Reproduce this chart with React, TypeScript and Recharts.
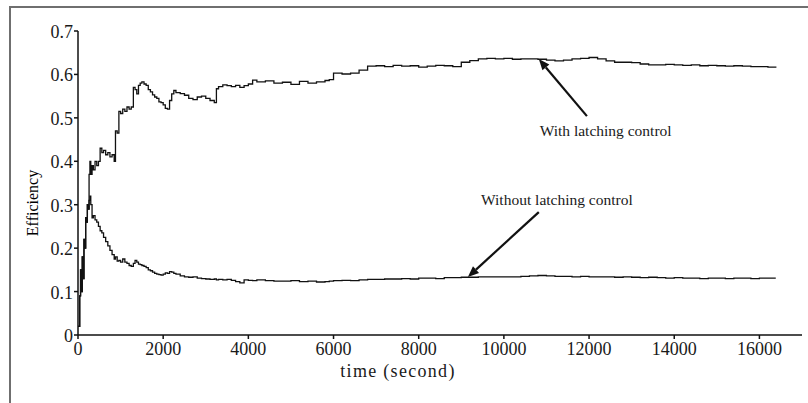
import React from "react";
import {
  LineChart,
  Line,
  XAxis,
  YAxis,
  ReferenceLine,
  ReferenceDot,
} from "recharts";

// time (s)
const times = [
  0, 20, 40, 60, 80, 100, 120, 140, 160, 180,
  200, 220, 240, 260, 280, 300, 330, 360, 400, 440,
  480, 520, 560, 600, 650, 700, 750, 800, 850, 880,
  920, 960, 1000, 1050, 1100, 1150, 1200, 1250, 1300, 1340,
  1380, 1420, 1460, 1500, 1550, 1600, 1650, 1700, 1750, 1800,
  1850, 1900, 1950, 2000, 2050, 2100, 2150, 2200, 2250, 2300,
  2400, 2500, 2600, 2700, 2800, 2900, 3000, 3100, 3200, 3250,
  3300, 3400, 3500, 3600, 3700, 3800, 3900, 4000, 4100, 4200,
  4400, 4600, 4800, 5000, 5200, 5400, 5600, 5800, 5900, 6000,
  6200, 6400, 6600, 6800, 7000, 7200, 7400, 7600, 7800, 8000,
  8200, 8400, 8600, 8800, 9000, 9200, 9400, 9600, 9800, 10000,
  10200, 10400, 10600, 10800, 11000, 11200, 11400, 11600, 11800, 12000,
  12200, 12400, 12600, 12800, 13000, 13200, 13400, 13600, 13800, 14000,
  14200, 14400, 14600, 14800, 15000, 15200, 15400, 15600, 15800, 16000,
  16200, 16384,
];

const withLatching = [
  0.02, 0.02, 0.09, 0.15, 0.1, 0.18, 0.13, 0.22, 0.2, 0.27,
  0.26, 0.3, 0.29, 0.37, 0.4, 0.37, 0.39, 0.38, 0.4, 0.39,
  0.4, 0.43, 0.42, 0.425, 0.415, 0.42, 0.41, 0.415, 0.4, 0.47,
  0.465, 0.515, 0.51, 0.52, 0.515, 0.525, 0.52, 0.525, 0.57, 0.565,
  0.555, 0.575, 0.58, 0.583, 0.578, 0.575, 0.565, 0.56, 0.553, 0.548,
  0.545, 0.537, 0.535, 0.53, 0.522, 0.52, 0.54, 0.555, 0.563, 0.558,
  0.556, 0.552, 0.545, 0.542, 0.548, 0.55, 0.545, 0.54, 0.535, 0.567,
  0.572, 0.576, 0.574, 0.572, 0.575, 0.57, 0.574, 0.578, 0.587, 0.583,
  0.585, 0.58, 0.582, 0.577, 0.584, 0.58, 0.583, 0.586, 0.588, 0.603,
  0.601, 0.603, 0.61, 0.619, 0.62, 0.618, 0.621, 0.619, 0.62, 0.617,
  0.619, 0.621, 0.62, 0.618, 0.628, 0.632, 0.636, 0.637, 0.636, 0.637,
  0.635, 0.636, 0.636, 0.635, 0.633, 0.631, 0.633, 0.636, 0.637, 0.639,
  0.636, 0.631, 0.628, 0.628, 0.627, 0.624, 0.622, 0.622, 0.623, 0.622,
  0.621, 0.622, 0.62, 0.621, 0.62, 0.619, 0.62, 0.619, 0.618, 0.618,
  0.617, 0.618,
];

const withoutLatching = [
  0.02, 0.02, 0.09, 0.15, 0.1, 0.18, 0.13, 0.22, 0.2, 0.27,
  0.26, 0.3, 0.29, 0.31, 0.32, 0.3, 0.27, 0.275, 0.265, 0.26,
  0.25, 0.24, 0.235, 0.225, 0.215, 0.205, 0.195, 0.185, 0.175, 0.18,
  0.17, 0.172, 0.168, 0.175, 0.168, 0.165, 0.16, 0.158, 0.165, 0.172,
  0.168, 0.163, 0.162, 0.16, 0.158, 0.155, 0.15, 0.148, 0.145, 0.142,
  0.14, 0.139, 0.138, 0.14, 0.143, 0.142, 0.146, 0.145, 0.142, 0.14,
  0.136, 0.134, 0.133, 0.134, 0.131, 0.13, 0.129, 0.128, 0.129, 0.127,
  0.128, 0.127, 0.128, 0.126, 0.123, 0.12, 0.127, 0.126, 0.125, 0.127,
  0.125, 0.124, 0.124, 0.125, 0.123, 0.124, 0.122, 0.123, 0.124, 0.125,
  0.126, 0.125, 0.127, 0.128, 0.128, 0.129, 0.129, 0.13, 0.129, 0.131,
  0.131, 0.13, 0.132, 0.132, 0.133, 0.133, 0.134, 0.134, 0.134, 0.134,
  0.134, 0.135, 0.136, 0.137, 0.136, 0.135, 0.135, 0.134, 0.135, 0.134,
  0.134, 0.134, 0.133, 0.134, 0.133, 0.132, 0.133, 0.132, 0.131, 0.132,
  0.131, 0.131, 0.13, 0.131, 0.131, 0.13, 0.131, 0.131, 0.13, 0.131,
  0.131, 0.131,
];

const xTicks = [0, 2000, 4000, 6000, 8000, 10000, 12000, 14000, 16000];
const yTicks = [0, 0.1, 0.2, 0.3, 0.4, 0.5, 0.6, 0.7];

// arrow annotations in data coordinates
const notes = [
  { text: "With latching control", tail: [11950, 0.504], head: [10820, 0.6355], at: [12390, 0.47] },
  { text: "Without latching control", tail: [10820, 0.283], head: [9155, 0.1335], at: [11245, 0.311] },
];

const data = times.map((t, i) => ({
  t,
  w: withLatching[i],
  wo: withoutLatching[i],
}));

const FONT = "'Liberation Serif', 'Times New Roman', serif";
const INK = "#1a1a1a";

function XTick({ x, y, payload }: any) {
  return (
    <text x={x} y={y + 14} textAnchor="middle" fill={INK} fontSize={18} fontFamily={FONT}>
      {payload.value}
    </text>
  );
}

function YTick({ x, y, payload }: any) {
  const v = payload.value;
  return (
    <text x={x} y={y + 7} textAnchor="end" fill={INK} fontSize={18} fontFamily={FONT}>
      {v === 0 ? "0" : v.toFixed(1)}
    </text>
  );
}

function Arrow(props: any) {
  const { x1, y1, x2, y2 } = props;
  const dx = x2 - x1;
  const dy = y2 - y1;
  const len = Math.sqrt(dx * dx + dy * dy);
  const ux = dx / len;
  const uy = dy / len;
  const hl = 11;
  const hw = 4.5;
  const bx = x2 - ux * hl;
  const by = y2 - uy * hl;
  const pts = `${x2},${y2} ${bx - uy * hw},${by + ux * hw} ${bx + uy * hw},${by - ux * hw}`;
  return (
    <g>
      <line x1={x1} y1={y1} x2={bx} y2={by} stroke="#111" strokeWidth={2.2} />
      <polygon points={pts} fill="#111" />
    </g>
  );
}

export default function App() {
  return (
    <div style={{ position: "absolute", left: 0, top: 0, width: 808, height: 403, background: "#fff" }}>
      <div
        style={{
          position: "absolute",
          left: 9,
          top: 6,
          width: 820,
          height: 420,
          borderTop: "2px solid #6f6f6f",
          borderLeft: "2px solid #6f6f6f",
        }}
      />
      <LineChart
        width={808}
        height={403}
        data={data}
        margin={{ top: 31, right: 6, bottom: 38, left: 0 }}
        style={{ position: "absolute", left: 0, top: 0, fontFamily: FONT }}
      >
        <XAxis
          dataKey="t"
          type="number"
          domain={[0, 17000]}
          ticks={xTicks}
          height={30}
          tickSize={4}
          tickMargin={2}
          stroke="#111"
          strokeWidth={1.5}
          tick={<XTick />}
          label={{
            content: ({ viewBox }: any) => (
              <text
                x={viewBox.x + viewBox.width / 2 - 42}
                y={viewBox.y + 42}
                textAnchor="middle"
                fill={INK}
                fontSize={18}
                letterSpacing={1.3}
                fontFamily={FONT}
              >
                time (second)
              </text>
            ),
          }}
        />
        <YAxis
          type="number"
          domain={[0, 0.7]}
          ticks={yTicks}
          width={78}
          tickSize={4}
          tickMargin={1}
          stroke="#111"
          strokeWidth={1.5}
          tick={<YTick />}
          label={{
            content: ({ viewBox }: any) => {
              const cx = viewBox.x + 32;
              const cy = viewBox.y + viewBox.height / 2 + 20;
              return (
                <text
                  x={cx}
                  y={cy}
                  transform={`rotate(-90, ${cx}, ${cy})`}
                  textAnchor="middle"
                  dominantBaseline="central"
                  fill="#000"
                  fontSize={16}
                  fontFamily={FONT}
                >
                  Efficiency
                </text>
              );
            },
          }}
        />
        <Line
          type="stepAfter"
          dataKey="w"
          stroke="#111"
          strokeWidth={1.3}
          dot={false}
          isAnimationActive={false}
        />
        <Line
          type="stepAfter"
          dataKey="wo"
          stroke="#111"
          strokeWidth={1.3}
          dot={false}
          isAnimationActive={false}
        />
        {notes.map((n) => (
          <ReferenceLine
            key={n.text + "-arrow"}
            segment={[
              { x: n.tail[0], y: n.tail[1] },
              { x: n.head[0], y: n.head[1] },
            ]}
            shape={Arrow}
          />
        ))}
        {notes.map((n) => (
          <ReferenceDot
            key={n.text}
            x={n.at[0]}
            y={n.at[1]}
            r={0}
            fill="none"
            stroke="none"
            label={{
              value: n.text,
              position: "center",
              fill: INK,
              fontSize: 15.5,
              fontFamily: FONT,
            }}
          />
        ))}
      </LineChart>
    </div>
  );
}
